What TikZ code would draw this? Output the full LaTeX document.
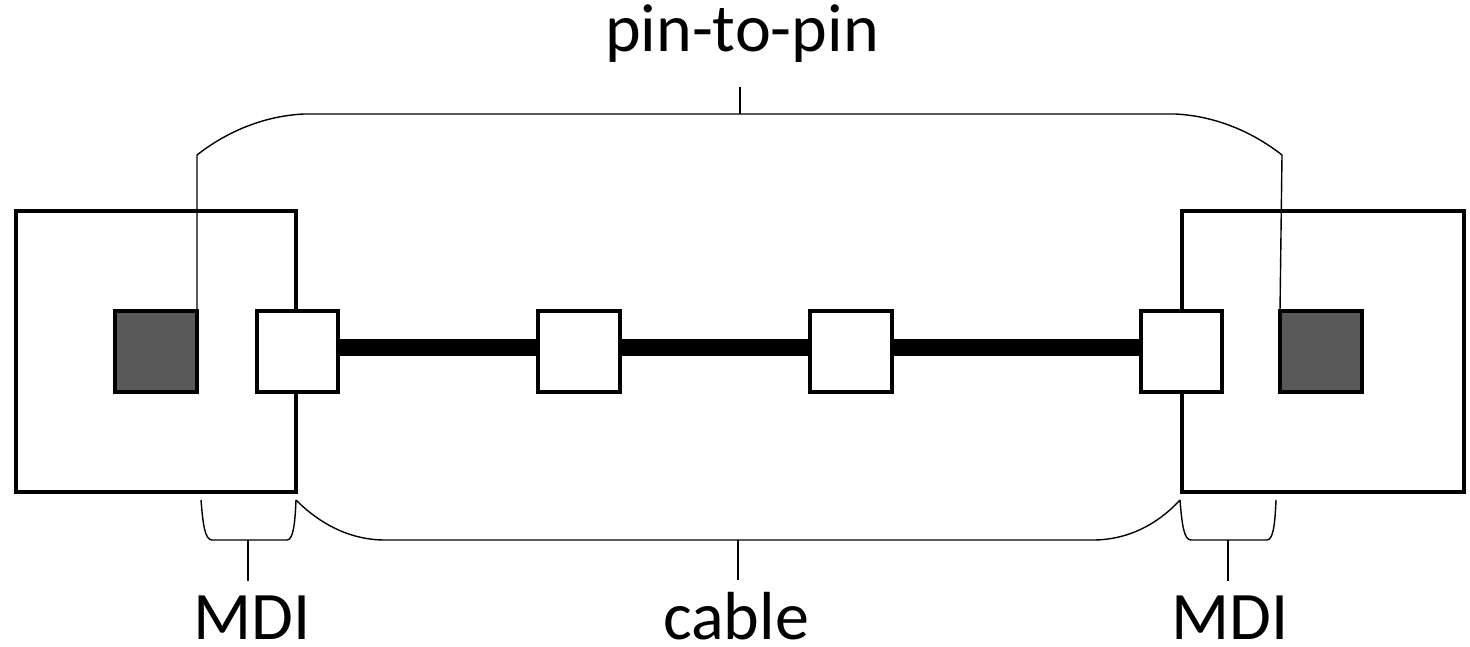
\documentclass[tikz,border=0pt]{standalone}
\usepackage{fontspec}
\setmainfont{Carlito}
\begin{document}
\begin{tikzpicture}[x=1pt,y=-1pt,
  bigbox/.style={draw,line width=3.6pt,fill=white,minimum width=280pt,minimum height=281pt,inner sep=0pt,outer sep=0pt},
  pinbox/.style={draw,line width=3.6pt,fill=white,minimum width=81pt,minimum height=81pt,inner sep=0pt,outer sep=0pt},
  chipbox/.style={draw,line width=3.6pt,fill=darkgray,minimum width=82pt,minimum height=81pt,inner sep=0pt,outer sep=0pt},
  cableline/.style={line width=17pt},
  brace/.style={line width=1.4pt},
  lbl/.style={anchor=base,inner sep=0pt,text depth=0pt,font=\fontsize{68}{80}\selectfont}]
\colorlet{darkgray}{black!65}
\useasboundingbox (0,0) rectangle (1470,647);
% devices
\node[bigbox] (devL) at (156,351.5) {};
\node[bigbox,minimum width=282pt] (devR) at (1323,351.5) {};
\node[chipbox] (chipL) at (156,351.5) {};
\node[chipbox] (chipR) at (1321,351.5) {};
% connectors
\node[pinbox] (conL) at (297.5,351.5) {};
\node[pinbox,minimum width=82pt] (midA) at (579,351.5) {};
\node[pinbox,minimum width=82pt] (midB) at (851,351.5) {};
\node[pinbox] (conR) at (1181.5,351.5) {};
% cable
\draw[cableline] ([yshift=4pt]conL.east) -- ([yshift=4pt]midA.west);
\draw[cableline] ([yshift=4pt]midA.east) -- ([yshift=4pt]midB.west);
\draw[cableline] ([yshift=4pt]midB.east) -- ([yshift=4pt]conR.west);
% labels
\node[lbl] (ptp) at (742,52) {pin-to-pin};
\node[lbl] (mdiL) at (252,639) {MDI};
\node[lbl] (cab) at (736,639) {cable};
\node[lbl] (mdiR) at (1230,639) {MDI};
% top brace
\coordinate (tl) at (197,155);
\coordinate (tr) at (1282,155);
\coordinate (ttick) at (740,114);
\draw[brace] (chipL.north east) -- (tl) .. controls (225,133) and (262,116) .. (304,114)
  -- (1175,114) .. controls (1217,116) and (1254,133) .. (tr) -- (chipR.north west);
\draw[brace] (ttick) -- (740,87);
% bottom braces
\draw[brace] (201,500) .. controls (203,525) and (205,540) .. (212,540) -- (287,540)
  .. controls (293,540) and (295,525) .. (296,500);
\draw[brace] (248,540) -- (248,581);
\draw[brace] (296,500) .. controls (320,524) and (350,540) .. (385,540) -- (1093,540)
  .. controls (1128,540) and (1158,524) .. (1180,500);
\draw[brace] (738,540) -- (738,580);
\draw[brace] (1180,500) .. controls (1182,525) and (1184,540) .. (1191,540) -- (1267,540)
  .. controls (1273,540) and (1275,525) .. (1276,500);
\draw[brace] (1228,540) -- (1228,581);
\end{tikzpicture}
\end{document}
